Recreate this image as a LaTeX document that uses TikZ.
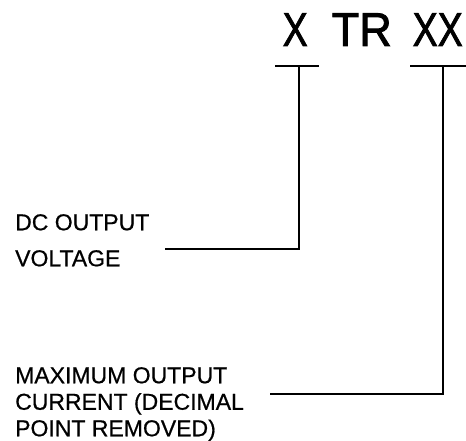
\documentclass[tikz,border=0pt]{standalone}
\usepackage{fontspec}
\setmainfont{Liberation Sans}
\newfontfamily\ttlfont[FakeBold=1.8]{Liberation Sans}
\newfontfamily\lblfont[FakeBold=0.6]{Liberation Sans}
\begin{document}
\begin{tikzpicture}[x=1pt,y=-1pt,
  ttl/.style={inner sep=0pt,anchor=base west,font=\ttlfont\fontsize{47.5}{50}\selectfont},
  lbl/.style={inner sep=0pt,anchor=north west,align=left},
  ln/.style={line width=1.8pt,line cap=butt}]
\useasboundingbox (0,0) rectangle (466,441);
% title
\node[ttl] (xa) at (282.5,46) {\scalebox{0.79}[1]{X}};
\node[ttl] (tr) at (331.5,46) {\scalebox{0.95}[1]{TR}};
\node[ttl] (xx) at (412.5,46) {\scalebox{0.79}[1]{XX}};
% labels
\node[lbl,font=\lblfont\fontsize{23}{36}\selectfont] (dc) at (15,214) {DC OUTPUT\\VOLTAGE};
\node[lbl,font=\lblfont\fontsize{23}{26.5}\selectfont] (mx) at (15,367) {MAXIMUM OUTPUT\\CURRENT (DECIMAL\\POINT REMOVED)};
% bars
\coordinate (bLa) at (275,66); \coordinate (bLb) at (319,66);
\coordinate (bRa) at (410,66); \coordinate (bRb) at (466,66);
\coordinate (jL) at (299,66); \coordinate (jR) at (443,66);
\coordinate (dcEnd) at (165,249);
\coordinate (mxEnd) at (270,394);
\draw[ln] (bLa) -- (bLb);
\draw[ln] (bRa) -- (bRb);
\draw[ln] (jL) |- (dcEnd);
\draw[ln] (jR) |- (mxEnd);
\end{tikzpicture}
\end{document}
